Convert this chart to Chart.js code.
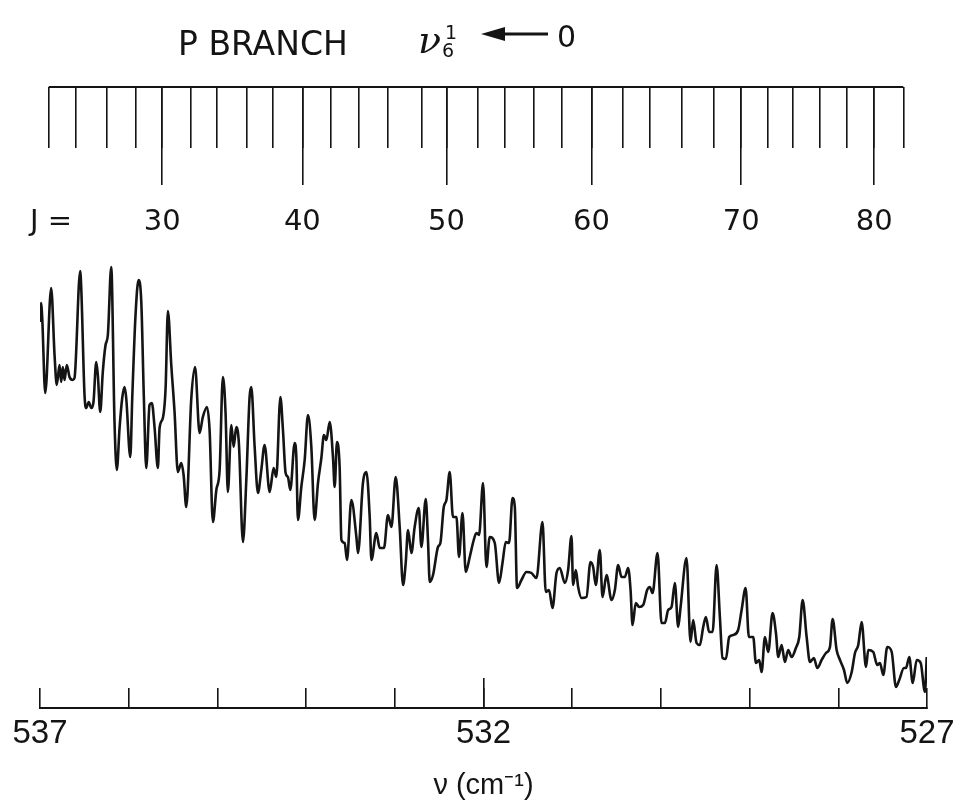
<!DOCTYPE html>
<html>
<head>
<meta charset="utf-8">
<script src="https://cdn.jsdelivr.net/npm/chart.js@4.4.1/dist/chart.umd.min.js"></script>
<style>
  html, body { margin: 0; padding: 0; background: #fff; }
  #wrap { width: 956px; height: 800px; }
</style>
</head>
<body>
<div id="wrap"><canvas id="spectrum" width="956" height="800"></canvas></div>
<script>
// trace: wavenumber (cm-1) and relative absorption
const wavenumber = [537.000, 536.989, 536.975, 536.941, 536.874, 536.836, 536.811, 536.780, 536.761, 536.743, 536.724, 536.698, 536.667, 536.630, 536.611, 536.547, 536.535, 536.498, 536.479, 536.450, 536.422, 536.397, 536.366, 536.348, 536.321, 536.292, 536.261, 536.235, 536.197, 536.160, 536.134, 536.103, 536.073, 536.047, 536.028, 535.982, 535.960, 535.923, 535.889, 535.858, 535.829, 535.802, 535.765, 535.739, 535.708, 535.671, 535.652, 535.615, 535.584, 535.558, 535.520, 535.483, 535.446, 535.407, 535.381, 535.351, 535.294, 535.252, 535.201, 535.164, 535.118, 535.088, 535.051, 535.012, 534.975, 534.938, 534.908, 534.882, 534.843, 534.817, 534.787, 534.758, 534.712, 534.674, 534.637, 534.618, 534.580, 534.543, 534.505, 534.468, 534.411, 534.366, 534.336, 534.290, 534.261, 534.231, 534.205, 534.178, 534.129, 534.110, 534.092, 534.054, 534.016, 533.979, 533.941, 533.904, 533.866, 533.828, 533.799, 533.772, 533.734, 533.697, 533.678, 533.652, 533.622, 533.602, 533.565, 533.539, 533.490, 533.433, 533.415, 533.359, 533.320, 533.283, 533.264, 533.208, 533.170, 533.122, 533.077, 533.038, 532.990, 532.945, 532.907, 532.877, 532.851, 532.813, 532.776, 532.730, 532.700, 532.651, 532.626, 532.606, 532.569, 532.513, 532.486, 532.448, 532.418, 532.381, 532.344, 532.305, 532.276, 532.237, 532.200, 532.155, 532.110, 532.080, 532.050, 532.005, 531.967, 531.930, 531.873, 531.825, 531.786, 531.749, 531.712, 531.673, 531.647, 531.622, 531.572, 531.516, 531.459, 531.403, 531.335, 531.298, 531.261, 531.222, 531.177, 531.140, 531.083, 531.046, 531.008, 530.990, 530.959, 530.933, 530.895, 530.839, 530.794, 530.764, 530.734, 530.689, 530.658, 530.613, 530.557, 530.519, 530.482, 530.444, 530.407, 530.369, 530.342, 530.320, 530.283, 530.245, 530.200, 530.155, 530.125, 530.094, 530.038, 529.993, 529.955, 529.918, 529.880, 529.843, 529.805, 529.778, 529.711, 529.666, 529.636, 529.598, 529.561, 529.523, 529.493, 529.456, 529.417, 529.372, 529.335, 529.305, 529.267, 529.230, 529.185, 529.129, 529.090, 529.045, 529.008, 528.959, 528.929, 528.892, 528.865, 528.827, 528.790, 528.741, 528.703, 528.677, 528.639, 528.602, 528.565, 528.526, 528.478, 528.440, 528.402, 528.357, 528.320, 528.275, 528.237, 528.188, 528.139, 528.094, 528.064, 528.019, 527.981, 527.936, 527.899, 527.849, 527.812, 527.775, 527.737, 527.688, 527.662, 527.606, 527.561, 527.530, 527.493, 527.448, 527.398, 527.350, 527.313, 527.260, 527.237, 527.200, 527.161, 527.116, 527.071, 527.023, 527.003];
const intensity = [38.6, 40.5, 39.0, 31.5, 42.0, 35.3, 32.3, 34.3, 32.6, 34.1, 32.8, 34.3, 33.1, 32.8, 33.0, 43.7, 42.0, 31.3, 30.0, 30.6, 30.0, 30.6, 34.6, 33.3, 29.6, 33.6, 36.3, 37.3, 44.1, 28.6, 23.8, 28.0, 31.0, 32.1, 31.0, 25.1, 31.0, 39.3, 42.8, 40.6, 31.0, 24.0, 30.3, 30.5, 28.0, 24.0, 28.0, 29.0, 32.0, 39.7, 34.3, 29.6, 23.6, 24.5, 23.3, 20.1, 31.0, 34.1, 27.5, 29.1, 30.1, 27.8, 18.6, 21.8, 23.8, 33.1, 29.5, 21.6, 28.3, 26.1, 28.1, 26.5, 16.6, 22.8, 31.1, 32.1, 26.1, 21.5, 23.8, 26.3, 21.6, 24.0, 23.1, 31.1, 27.8, 23.5, 23.1, 21.8, 26.5, 25.1, 18.8, 22.1, 24.8, 29.3, 26.1, 18.8, 22.5, 25.0, 27.3, 26.8, 28.6, 25.1, 22.1, 26.6, 24.1, 16.8, 16.5, 14.8, 20.8, 17.1, 15.5, 22.5, 23.6, 19.1, 14.8, 17.5, 16.0, 16.0, 19.3, 18.1, 23.1, 18.1, 12.3, 14.5, 17.8, 15.5, 18.1, 20.0, 16.1, 20.9, 16.8, 12.6, 13.3, 16.1, 16.5, 20.1, 20.8, 23.6, 19.1, 19.1, 15.1, 19.5, 13.6, 15.1, 16.8, 17.5, 17.3, 22.5, 14.1, 17.1, 16.5, 12.5, 14.5, 16.6, 16.5, 21.0, 20.1, 12.0, 12.8, 13.6, 13.5, 13.0, 18.6, 11.6, 11.8, 10.0, 13.5, 14.0, 12.5, 13.8, 17.2, 12.3, 13.8, 12.1, 11.0, 11.1, 14.6, 14.1, 12.3, 15.8, 11.1, 13.3, 10.8, 11.8, 14.3, 13.1, 13.1, 14.0, 11.8, 8.3, 10.5, 10.1, 10.3, 11.8, 12.1, 11.5, 15.5, 8.5, 8.5, 9.8, 10.1, 12.5, 8.1, 10.1, 15.0, 6.6, 8.8, 6.5, 6.3, 8.1, 9.1, 7.6, 7.6, 14.3, 9.1, 5.0, 4.9, 7.1, 7.3, 7.8, 9.8, 12.0, 7.1, 7.1, 4.5, 4.8, 3.6, 7.1, 5.6, 9.5, 7.5, 5.1, 6.3, 4.6, 5.8, 5.1, 6.0, 7.1, 10.8, 7.1, 4.6, 5.0, 4.0, 4.8, 5.5, 6.1, 8.9, 5.8, 4.8, 3.8, 2.5, 3.6, 5.5, 6.3, 8.6, 4.1, 5.8, 5.6, 4.3, 4.5, 3.3, 6.1, 5.6, 2.1, 2.8, 4.0, 4.0, 5.1, 2.5, 4.8, 4.5, 1.6, 5.1];

// P-branch line positions (cm-1) for every second J
const jValues = [22, 24, 26, 28, 30, 32, 34, 36, 38, 40, 42, 44, 46, 48, 50, 52, 54, 56, 58, 60, 62, 64, 66, 68, 70, 72, 74, 76, 78, 80, 82];
const jLinePositions = [536.901, 536.592, 536.242, 535.923, 535.622, 535.302, 535.009, 534.671, 534.381, 534.042, 533.726, 533.411, 533.083, 532.700, 532.418, 532.068, 531.757, 531.430, 531.117, 530.782, 530.426, 530.125, 529.767, 529.403, 529.095, 528.790, 528.515, 528.204, 527.906, 527.595, 527.267];

const bottomTickLabels = [537, 532, 527];
const majorTickPositions = [532];

const ink = "#141414";
const combLevel = 62.1;
const jPrefixPosition = 536.876;

const majorJ = jValues.filter((j) => j % 10 === 0);
const majorJPositions = jLinePositions.filter((_, i) => jValues[i] % 10 === 0);

function setTicks(values) {
  return (scale) => {
    scale.ticks = values.map((v) => ({ value: v }));
  };
}

function zeroHeight(scale) {
  scale.height = 0;
  scale.paddingLeft = 0;
  scale.paddingRight = 0;
}

function overlayAxis(pos, extra) {
  return Object.assign(
    {
      axis: "x",
      type: "linear",
      reverse: true,
      min: 527,
      max: 537,
      position: pos,
      border: { display: false },
      afterFit: zeroHeight,
    },
    extra
  );
}

const headerPlugin = {
  id: "header",
  afterDraw(chart) {
    const ctx = chart.ctx;
    ctx.save();
    ctx.fillStyle = ink;
    ctx.strokeStyle = ink;
    ctx.textBaseline = "alphabetic";
    ctx.font = '33px "DejaVu Sans"';
    ctx.fillText("P BRANCH", 178, 55);
    ctx.font = 'italic 38px "DejaVu Serif"';
    ctx.fillText("ν", 418, 53);
    ctx.font = '19px "DejaVu Sans"';
    ctx.fillText("6", 442, 57);
    ctx.fillText("1", 445, 39);
    ctx.lineWidth = 3;
    ctx.beginPath();
    ctx.moveTo(500, 34);
    ctx.lineTo(548, 34);
    ctx.stroke();
    ctx.beginPath();
    ctx.moveTo(481, 34);
    ctx.lineTo(505, 27);
    ctx.lineTo(505, 41);
    ctx.closePath();
    ctx.fill();
    ctx.font = '30px "DejaVu Sans"';
    ctx.fillText("0", 557, 47);
    ctx.restore();
  },
};

new Chart(document.getElementById("spectrum"), {
  type: "line",
  data: {
    datasets: [
      {
        data: wavenumber.map((x, i) => ({ x: x, y: intensity[i] })),
        borderColor: ink,
        borderWidth: 2.6,
        pointRadius: 0,
        cubicInterpolationMode: "monotone",
      },
      {
        data: [
          { x: jLinePositions[0], y: combLevel },
          { x: jLinePositions[jLinePositions.length - 1], y: combLevel },
        ],
        borderColor: ink,
        borderWidth: 2,
        pointRadius: 0,
      },
    ],
  },
  options: {
    responsive: false,
    animation: false,
    devicePixelRatio: 1,
    layout: { padding: { left: 40, right: 29, top: 68, bottom: 0 } },
    plugins: { legend: { display: false }, tooltip: { enabled: false } },
    scales: {
      x: {
        type: "linear",
        reverse: true,
        min: 527,
        max: 537,
        position: "bottom",
        ticks: {
          stepSize: 1,
          autoSkip: false,
          maxRotation: 0,
          padding: 26,
          color: ink,
          font: { family: "Liberation Sans", size: 33 },
          callback: (v) => (bottomTickLabels.includes(v) ? String(v) : ""),
        },
        grid: { drawOnChartArea: false, tickLength: -20, color: ink, lineWidth: 1.6 },
        border: { display: true, color: ink, width: 2 },
        title: {
          display: true,
          text: "ν (cm⁻¹)",
          color: ink,
          font: { family: "Liberation Sans", size: 29, lineHeight: 1 },
          padding: 0,
        },
        afterFit: (s) => {
          s.height = 92;
          s.paddingLeft = 0;
          s.paddingRight = 0;
        },
      },
      xMajor: overlayAxis({ y: 0 }, {
        afterBuildTicks: setTicks(majorTickPositions),
        ticks: { display: false },
        grid: { drawOnChartArea: false, tickLength: -30, color: ink, lineWidth: 1.6 },
      }),
      xComb: overlayAxis({ y: combLevel }, {
        afterBuildTicks: setTicks(jLinePositions),
        ticks: { display: false },
        grid: { drawOnChartArea: false, tickLength: 61, color: ink, lineWidth: 1.6 },
      }),
      xCombMajor: overlayAxis({ y: combLevel }, {
        afterBuildTicks: setTicks([jPrefixPosition].concat(majorJPositions)),
        ticks: {
          autoSkip: false,
          maxRotation: 0,
          padding: 20,
          color: ink,
          font: { family: "DejaVu Sans", size: 29 },
          callback: (v, i) => (i === 0 ? "J =" : String(majorJ[i - 1])),
        },
        grid: {
          drawOnChartArea: false,
          tickLength: 98,
          lineWidth: 1.6,
          color: (c) => (c.index === 0 ? "rgba(0,0,0,0)" : ink),
        },
      }),
      y: { type: "linear", min: 0, max: 64, display: false },
    },
  },
  plugins: [headerPlugin],
});
</script>
</body>
</html>
